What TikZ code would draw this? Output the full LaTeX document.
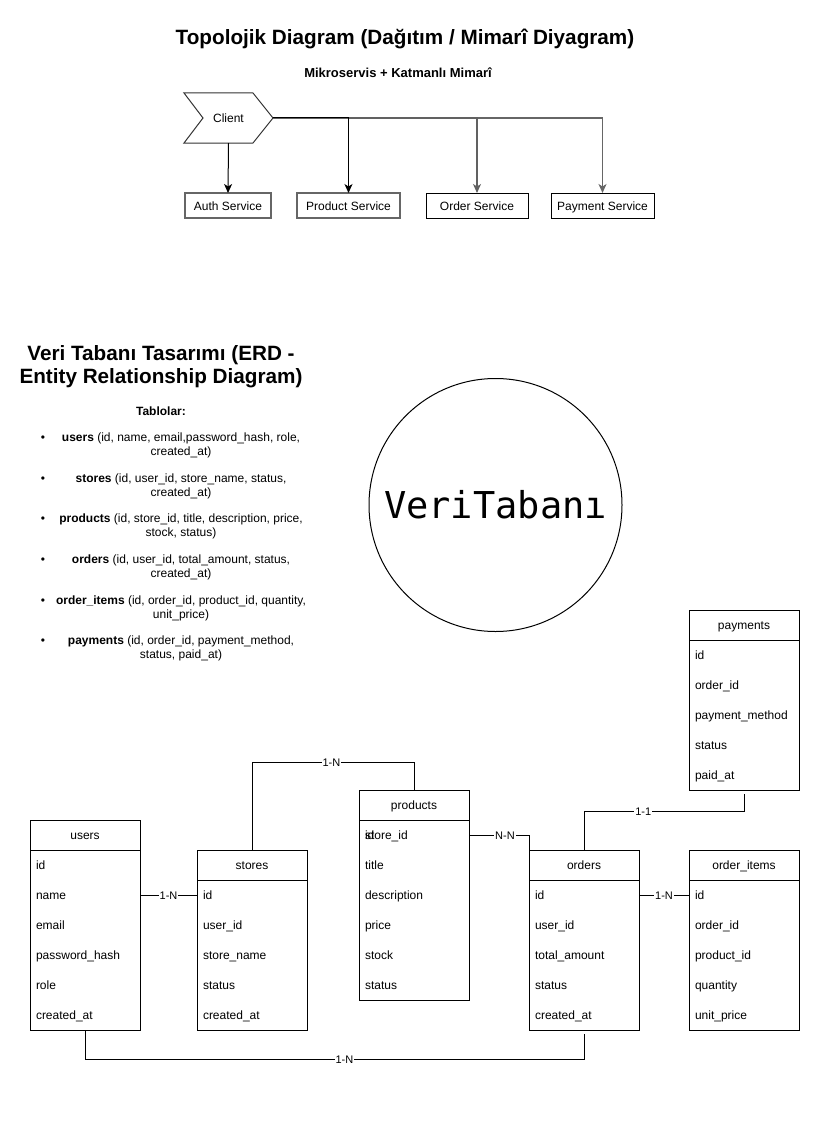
\documentclass[tikz,border=0pt]{standalone}
\usepackage{fontspec}
\setmainfont{Liberation Sans}
\newfontfamily\monofont{DejaVu Sans Mono}
\usetikzlibrary{arrows.meta}
\newcommand\erdtable[6]{% name, left x, top y, nrows, title, rows
  \node[tblhead] (#1) at (#2+55,#3+15) {#5};
  \node[tblbody, minimum height=30*#4] (#1-body) at (#2+55,#3+30+15*#4) {};
  \foreach \r [count=\i] in {#6} {
    \node[rowtxt] (#1-\i) at (#2+6,#3+15+30*\i) {\r};
  }
}
\begin{document}
\begin{tikzpicture}[x=1pt,y=-1pt,
  every node/.style={inner sep=0pt, outer sep=0pt},
  fixh/.style={text height=9.6pt, text depth=0pt},
  txt/.style={font=\fontsize{12}{14}\selectfont, fixh},
  svc/.style={draw, line width=1.3pt, minimum height=25, font=\fontsize{12}{14}\selectfont, fixh},
  tblhead/.style={draw, line width=1pt, minimum width=110, minimum height=30, font=\fontsize{12}{14}\selectfont, fixh},
  tblbody/.style={draw, line width=1pt, minimum width=110},
  rowtxt/.style={anchor=west, font=\fontsize{12}{14}\selectfont, fixh},
  lbl/.style={fill=white, font=\fontsize{11}{13}\selectfont, inner sep=1pt, text height=8.8pt, text depth=0pt},
  conn/.style={line width=1pt},
  arr/.style={-{Stealth[length=9pt,width=8pt,inset=2.5pt]}, line width=1pt},
  item/.style={align=center, font=\fontsize{12}{14}\selectfont},
  bullet/.style={font=\fontsize{12}{14}\selectfont},
  bigtitle/.style={font=\bfseries\fontsize{20.7}{23}\selectfont, align=center},
  subtitle/.style={font=\bfseries\fontsize{12}{14}\selectfont}
]
\useasboundingbox (0,0) rectangle (827,1121);

% ---------- Topology ----------
\node[bigtitle] (t1) at (405,39) {Topolojik Diagram (Dağıtım / Mimarî Diyagram)};
\node[subtitle, font=\bfseries\fontsize{13}{15}\selectfont] (t2) at (398,73) {Mikroservis + Katmanlı Mimarî};

\node[minimum width=89, minimum height=50, txt] (client) at (228.5,118) {Client};
\draw[line width=1pt, black!80] (client.north west) -- ([xshift=-20pt]client.north east) -- (client.east)
  -- ([xshift=-20pt]client.south east) -- (client.south west) -- ([xshift=19pt]client.west) -- cycle;

\node[svc, draw=black!60, minimum width=86] (auth) at (228,205.5) {Auth Service};
\node[svc, draw=black!60, minimum width=103] (product) at (348.5,205.5) {Product Service};
\node[svc, draw=black, line width=1pt, minimum width=102] (order) at (477,205.5) {Order Service};
\node[svc, draw=black, line width=1pt, minimum width=103] (payment) at (602.5,205.5) {Payment Service};

\draw[arr, black!60, line width=1.2pt] (client.east) -| (payment.north);
\draw[arr, black!62, line width=1.2pt] (client.east) -| (order.north);
\draw[arr] (client.east) -| (product.north);
\draw[arr] (client.south) -- (auth.north);

% ---------- ERD text ----------
\node[bigtitle] (t3) at (161,367) {Veri Tabanı Tasarımı (ERD -\\Entity Relationship Diagram)};
\node[subtitle] (t4) at (161,411) {Tablolar:};

\node[bullet] (b1) at (43,438.5) {•};
\node[item] (i1) at (181,445) {\textbf{users} (id, name, email,password\_hash, role,\\created\_at)};
\node[bullet] (b2) at (43,479.5) {•};
\node[item] (i2) at (181,486) {\textbf{stores} (id, user\_id, store\_name, status,\\created\_at)};
\node[bullet] (b3) at (43,519.5) {•};
\node[item] (i3) at (181,526) {\textbf{products} (id, store\_id, title, description, price,\\stock, status)};
\node[bullet] (b4) at (43,560.5) {•};
\node[item] (i4) at (181,567) {\textbf{orders} (id, user\_id, total\_amount, status,\\created\_at)};
\node[bullet] (b5) at (43,601.5) {•};
\node[item] (i5) at (181,608) {\textbf{order\_items} (id, order\_id, product\_id, quantity,\\unit\_price)};
\node[bullet] (b6) at (43,641.5) {•};
\node[item] (i6) at (181,648.5) {\textbf{payments} (id, order\_id, payment\_method,\\status, paid\_at)};

% ---------- Circle ----------
\node[draw, circle, line width=1pt, minimum size=253, font=\monofont\fontsize{37}{40}\selectfont] (db) at (495.5,505) {VeriTabanı};

% ---------- Tables ----------
\erdtable{users}{30}{820}{6}{users}{id,name,email,password\_hash,role,created\_at}
\erdtable{stores}{197}{850}{5}{stores}{id,user\_id,store\_name,status,created\_at}
\erdtable{products}{359}{790}{6}{products}{store\_id,title,description,price,stock,status}
\node[rowtxt] (products-1b) at (365,835) {id};
\erdtable{orders}{529}{850}{5}{orders}{id,user\_id,total\_amount,status,created\_at}
\erdtable{oitems}{689}{850}{5}{order\_items}{id,order\_id,product\_id,quantity,unit\_price}
\erdtable{payments}{689}{610}{5}{payments}{id,order\_id,payment\_method,status,paid\_at}

% ---------- Relations ----------
\draw[conn] (users-body.east |- users-2) -- node[lbl] {1-N} (stores-body.west |- stores-1);
\draw[conn] (stores.north) -- ++(0,-88) -| node[lbl, pos=0.245] {1-N} (products.north);
\draw[conn] (products-body.east |- products-1) -| node[lbl, pos=0.3] {N-N} (orders.north west);
\draw[conn] (orders-body.east |- orders-1) -- node[lbl] {1-N} (oitems-body.west |- oitems-1);
\draw[conn] (orders.north) -- ++(0,-39) -| node[lbl, pos=0.185] {1-1} ([yshift=-4pt]payments-body.south);
\draw[conn] (users-body.south) -- ++(0,29) -| node[lbl, pos=0.26] {1-N} ([yshift=-4pt]orders-body.south);
\end{tikzpicture}
\end{document}
